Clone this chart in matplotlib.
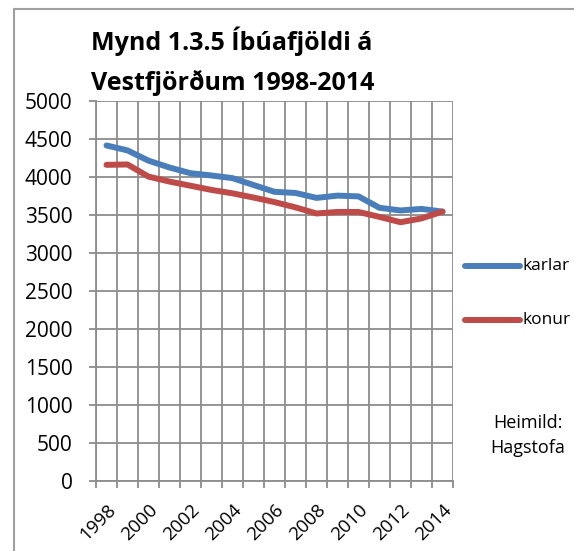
import numpy as np
import matplotlib
matplotlib.use("Agg")
import matplotlib.pyplot as plt
from matplotlib.patches import Rectangle
from matplotlib.lines import Line2D

years = list(range(1998, 2015))
karlar = [4415, 4350, 4215, 4125, 4050, 4020, 3985, 3895, 3805, 3790, 3725, 3755, 3745, 3595, 3560, 3580, 3545]
konur = [4160, 4165, 4005, 3940, 3885, 3830, 3785, 3730, 3670, 3600, 3520, 3540, 3540, 3475, 3405, 3455, 3545]
year_labels = [str(y) for y in range(1998, 2015, 2)]

plt.rcParams['font.family'] = ['Open Sans', 'DejaVu Sans']

blue = '#4A7EBB'
red = '#BE4B48'
grid_c = '#8C8C8C'

fig = plt.figure(figsize=(5.74, 5.51), dpi=100)
# chart border
fig.patches.append(Rectangle((14 / 574, -0.1), 1.0, 1 - 9 / 551 + 0.1, transform=fig.transFigure,
                             fill=False, edgecolor='#A0A0A0', linewidth=1.5))

ax = fig.add_axes([96 / 574, 70 / 551, 357 / 574, 380 / 551])

ax.plot(years, karlar, color=blue, linewidth=4.3, solid_capstyle='round', solid_joinstyle='round', zorder=3)
ax.plot(years, konur, color=red, linewidth=4.3, solid_capstyle='round', solid_joinstyle='round', zorder=3)

ax.set_xlim(1997.5, 2014.5)
ax.set_ylim(0, 5000)
ax.set_yticks(np.arange(0, 5001, 500))
ax.set_xticks(range(1998, 2015, 2))
ax.set_xticklabels(year_labels, rotation=45, ha='right', rotation_mode='anchor')
ax.set_xticks(np.arange(1997.5, 2015, 1), minor=True)

ax.tick_params(axis='x', which='major', length=0, labelsize=13.5, pad=14)
ax.tick_params(axis='x', which='minor', length=5, color=grid_c, width=1.3)
ax.tick_params(axis='y', length=5, color=grid_c, width=1.3, labelsize=15, pad=12)
ax.grid(True, axis='y', which='major', color=grid_c, linewidth=1.3)
ax.grid(True, axis='x', which='minor', color=grid_c, linewidth=1.3)
for s in ax.spines.values():
    s.set_color(grid_c)
    s.set_linewidth(1.3)
ax.spines['right'].set_visible(False)
ax.spines['top'].set_visible(False)

fig.text(91 / 574, 1 - 50 / 551, 'Mynd 1.3.5 Íbúafjöldi á', fontsize=18, fontweight='bold', va='baseline')
fig.text(91 / 574, 1 - 90 / 551, 'Vestfjörðum 1998-2014', fontsize=18, fontweight='bold', va='baseline')

# legend
for yy, lab, c in [(266, 'karlar', blue), (320, 'konur', red)]:
    fig.lines.append(Line2D([465 / 574, 520 / 574], [1 - yy / 551, 1 - yy / 551], transform=fig.transFigure,
                            color=c, linewidth=4.3, solid_capstyle='round'))
    fig.text(523 / 574, 1 - yy / 551, lab, fontsize=12.5, va='center')

fig.text(528 / 574, 1 - 423 / 551, 'Heimild:', fontsize=13, ha='center', va='center')
fig.text(528 / 574, 1 - 448 / 551, 'Hagstofa', fontsize=13, ha='center', va='center')

fig.savefig('out.png', dpi=100)
